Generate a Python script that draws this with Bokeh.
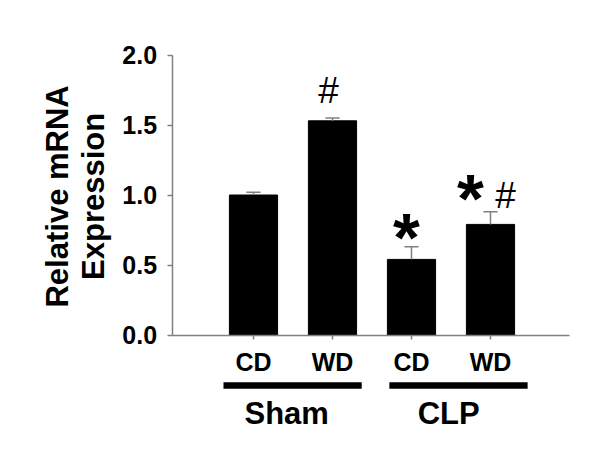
import numpy as np
from bokeh.plotting import figure
from bokeh.models import FixedTicker, Range1d, PrintfTickFormatter
from bokeh.core.properties import value
from bokeh.embed import file_html
from bokeh.resources import INLINE

# ---- data ----
groups = ["Sham", "Sham", "CLP", "CLP"]
diets = ["CD", "WD", "CD", "WD"]
expression = [1.00, 1.53, 0.54, 0.79]
sem = [0.02, 0.02, 0.09, 0.09]
star_mark = [False, False, True, True]
hash_mark = [False, True, False, True]
y_ticks = [0.0, 0.5, 1.0, 1.5, 2.0]
group_names = ["Sham", "CLP"]
y_title = ["Relative mRNA", "Expression"]

FONT = "Liberation Sans"
x = np.arange(len(diets), dtype=float)
top = np.array(expression)
err_top = top + np.array(sem)

p = figure(width=584, height=437, output_backend="svg", toolbar_location=None,
           x_range=Range1d(-3.2025, 4.1899), y_range=Range1d(-0.7321, 2.3893),
           min_border=0, min_border_left=0, min_border_right=0,
           min_border_top=0, min_border_bottom=0)
p.outline_line_color = None
p.xgrid.visible = False
p.ygrid.visible = False
p.background_fill_color = "white"

AX = "#808080"
# y axis
yax = p.yaxis[0]
yax.fixed_location = -1.03
yax.bounds = (0, 2)
yax.ticker = FixedTicker(ticks=y_ticks, minor_ticks=[])
yax.formatter = PrintfTickFormatter(format="%.1f")
yax.axis_line_color = AX
yax.axis_line_width = 1.5
yax.major_tick_line_color = AX
yax.major_tick_line_width = 1.5
yax.major_tick_out = 5
yax.major_tick_in = 0
yax.minor_tick_line_color = None
yax.major_label_standoff = 10
yax.major_label_text_font = FONT
yax.major_label_text_font_style = "bold"
yax.major_label_text_font_size = "25px"
yax.major_label_text_color = "black"

# x axis
xax = p.xaxis[0]
xax.fixed_location = 0
xax.bounds = (-1.03, 4.0)
xax.ticker = FixedTicker(ticks=list(x), minor_ticks=[])
xax.major_label_overrides = {int(i): d for i, d in zip(x, diets)}
xax.axis_line_color = AX
xax.axis_line_width = 1.5
xax.major_tick_line_color = AX
xax.major_tick_line_width = 1.5
xax.major_tick_out = 4
xax.major_tick_in = 0
xax.minor_tick_line_color = None
xax.major_label_standoff = 9
xax.major_label_text_font = FONT
xax.major_label_text_font_style = "bold"
xax.major_label_text_font_size = "25px"
xax.major_label_text_color = "black"

# bars
p.vbar(x=x, top=top, bottom=0, width=0.61, fill_color="black", line_color="black")

# error bars (upper only)
p.segment(x0=x, y0=top, x1=x, y1=err_top, line_color=AX, line_width=1.5)
p.segment(x0=x - 0.09, y0=err_top, x1=x + 0.09, y1=err_top, line_color=AX, line_width=1.5)

# significance marks
sx = [x[i] for i in range(len(x)) if star_mark[i]]
sy = [err_top[i] for i in range(len(x)) if star_mark[i]]
p.text(x=sx, y=sy, text=["*"] * len(sx), text_font=value(FONT), text_font_style="bold",
       text_font_size="69px", text_align="center", text_baseline="middle",
       x_offset=[-5, -20], y_offset=[-9, -13], text_color="black")
hx = [x[i] for i in range(len(x)) if hash_mark[i]]
hy = [err_top[i] for i in range(len(x)) if hash_mark[i]]
p.text(x=hx, y=hy, text=["#"] * len(hx), text_font=value(FONT), text_font_style="normal",
       text_font_size="37px", text_align="center", text_baseline="middle",
       x_offset=[-4, 15], y_offset=[-28, -16], text_color="black")

# group bars and labels
g_x0 = [x[0] - 0.38, x[2] - 0.28]
g_x1 = [x[1] + 0.37, x[3] + 0.47]
p.segment(x0=g_x0, y0=[-0.361] * 2, x1=g_x1, y1=[-0.361] * 2, line_color="black",
          line_width=6.5, line_cap="butt")
p.text(x=[0.42, 2.47], y=[-0.558] * 2, text=group_names, text_font=value(FONT),
       text_font_style="bold", text_font_size="31px", text_align="center",
       text_baseline="middle", text_color="black")

# y title (two lines, rotated)
p.text(x=[-2.484, -2.022], y=[0.99, 0.99], text=y_title, angle=np.pi / 2,
       text_font=value(FONT), text_font_style="bold", text_font_size="31px",
       text_align="center", text_baseline="middle", text_color="black")

open("out.html", "w").write(file_html(p, INLINE))
